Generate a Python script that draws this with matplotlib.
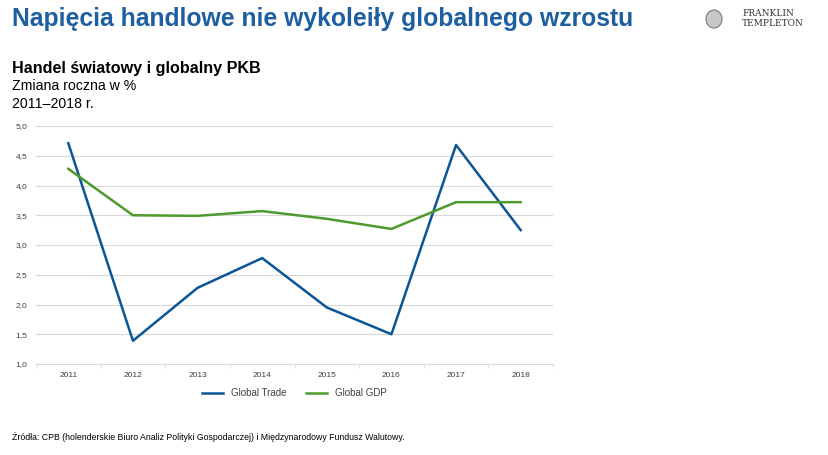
import matplotlib.pyplot as plt
from matplotlib.patches import Ellipse
import numpy as np

# --- data ---
years = ["2011", "2012", "2013", "2014", "2015", "2016", "2017", "2018"]
global_trade = [4.71, 1.39, 2.28, 2.78, 1.95, 1.50, 4.68, 3.25]
global_gdp = [4.28, 3.50, 3.49, 3.57, 3.44, 3.27, 3.72, 3.72]
y_ticks = [1.0, 1.5, 2.0, 2.5, 3.0, 3.5, 4.0, 4.5, 5.0]

plt.rcParams['font.family'] = ['Liberation Sans', 'DejaVu Sans']

fig = plt.figure(figsize=(8.29, 4.55), dpi=100)
ax = fig.add_axes([36 / 829, 1 - 364 / 455, 517 / 829, 238 / 455])

x = np.arange(len(years))
ax.plot(x, global_trade, color="#0A5596", lw=1.8, label="Global Trade")
ax.plot(x, global_gdp, color="#4E9A2C", lw=1.8, label="Global GDP")

ax.set_xlim(-0.5, len(years) - 0.5)
ax.set_ylim(1.0, 5.0)
ax.set_yticks(y_ticks)
ax.set_yticklabels([f"{v:.1f}".replace(".", ",") for v in y_ticks])
ax.set_xticks(x)
ax.set_xticklabels(years)
ax.set_xticks(np.arange(-0.5, len(years)), minor=True)

ax.grid(axis="y", color="#D9D9D9", lw=0.8)
ax.set_axisbelow(True)
for s in ["top", "right", "left"]:
    ax.spines[s].set_visible(False)
ax.spines["bottom"].set_color("#D9D9D9")
ax.tick_params(axis="y", length=0, labelsize=6, labelcolor="#404040", pad=6)
ax.tick_params(axis="x", which="major", length=0, labelsize=6, labelcolor="#404040", pad=6)
ax.tick_params(axis="x", which="minor", length=3, color="#D9D9D9")

ax.legend(loc="upper center", bbox_to_anchor=(0.5, -0.065), ncol=2, frameon=False,
          fontsize=7, handlelength=2.2, columnspacing=2.0, labelcolor="#404040")

# --- titles and texts ---
fig.text(12 / 829, 1 - 19 / 455, "Napięcia handlowe nie wykoleiły globalnego wzrostu",
         color="#1D5FA0", fontsize=17.8, fontweight="bold", va="center")
fig.text(12 / 829, 1 - 68 / 455, "Handel światowy i globalny PKB",
         fontsize=11.6, fontweight="bold", va="center")
fig.text(12 / 829, 1 - 86 / 455, "Zmiana roczna w %", fontsize=10.2, va="center")
fig.text(12 / 829, 1 - 104 / 455, "2011–2018 r.", fontsize=10.2, va="center")
fig.text(12 / 829, 1 - 437 / 455,
         "Źródła: CPB (holenderskie Biuro Analiz Polityki Gospodarczej) i Międzynarodowy Fundusz Walutowy.",
         fontsize=6.3, va="center")

# logo
fig.text(742 / 829, 1 - 14 / 455, "FRANKLIN", family="DejaVu Serif", fontsize=6.5,
         color="#333333", va="center")
fig.text(742 / 829, 1 - 24 / 455, "TEMPLETON", family="DejaVu Serif", fontsize=6.5,
         color="#333333", va="center")
logo = Ellipse((714 / 829, 1 - 19 / 455), 16 / 829, 18 / 455, transform=fig.transFigure,
               facecolor="#C8C8C8", edgecolor="#777777", lw=0.8)
fig.add_artist(logo)

fig.savefig("out.png", dpi=100)
